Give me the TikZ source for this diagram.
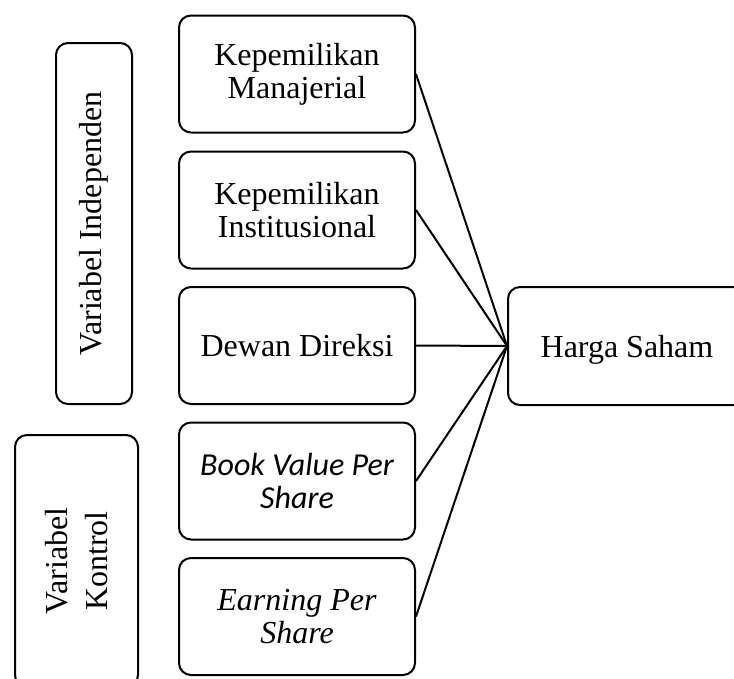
\documentclass[tikz,border=0pt]{standalone}
\usepackage{fontspec}
\setmainfont{Liberation Serif}
\newfontfamily\calibri{Carlito}
\begin{document}
\begin{tikzpicture}[x=1pt,y=-1pt,
  box/.style={draw=black, line width=2pt, rounded corners=12pt, rectangle,
    align=center, inner sep=0pt, font=\fontsize{32}{33}\selectfont},
  varbox/.style={box, minimum width=236pt, minimum height=117pt},
  link/.style={draw=black, line width=2pt}]
\useasboundingbox (0,0) rectangle (734,678);
\node[varbox] (km) at (297,74) {Kepemilikan\\Manajerial};
\node[varbox] (ki) at (297,210) {Kepemilikan\\Institusional};
\node[varbox] (dd) at (297,345.5) {Dewan Direksi};
\node[varbox] (bv) at (297,481) {{\calibri\itshape Book Value Per}\\{\calibri\itshape Share}};
\node[varbox] (eps) at (297,616.5) {\textit{Earning Per}\\\textit{Share}};
\node[box, text depth=0pt, minimum width=238pt, minimum height=118pt] (hs) at (627,346) {Harga Saham};
\node[box, rotate=90, minimum width=361pt, minimum height=76pt] (vi) at (94,223.5) {Variabel Independen};
\node[box, rotate=90, minimum width=252pt, minimum height=123pt] (vk) at (76.5,561) {Variabel\\[7pt]Kontrol};
\draw[link] (km.east) -- (hs.west);
\draw[link] (ki.east) -- (hs.west);
\draw[link] (dd.east) -- (hs.west);
\draw[link] (bv.east) -- (hs.west);
\draw[link] (eps.east) -- (hs.west);
\end{tikzpicture}
\end{document}
